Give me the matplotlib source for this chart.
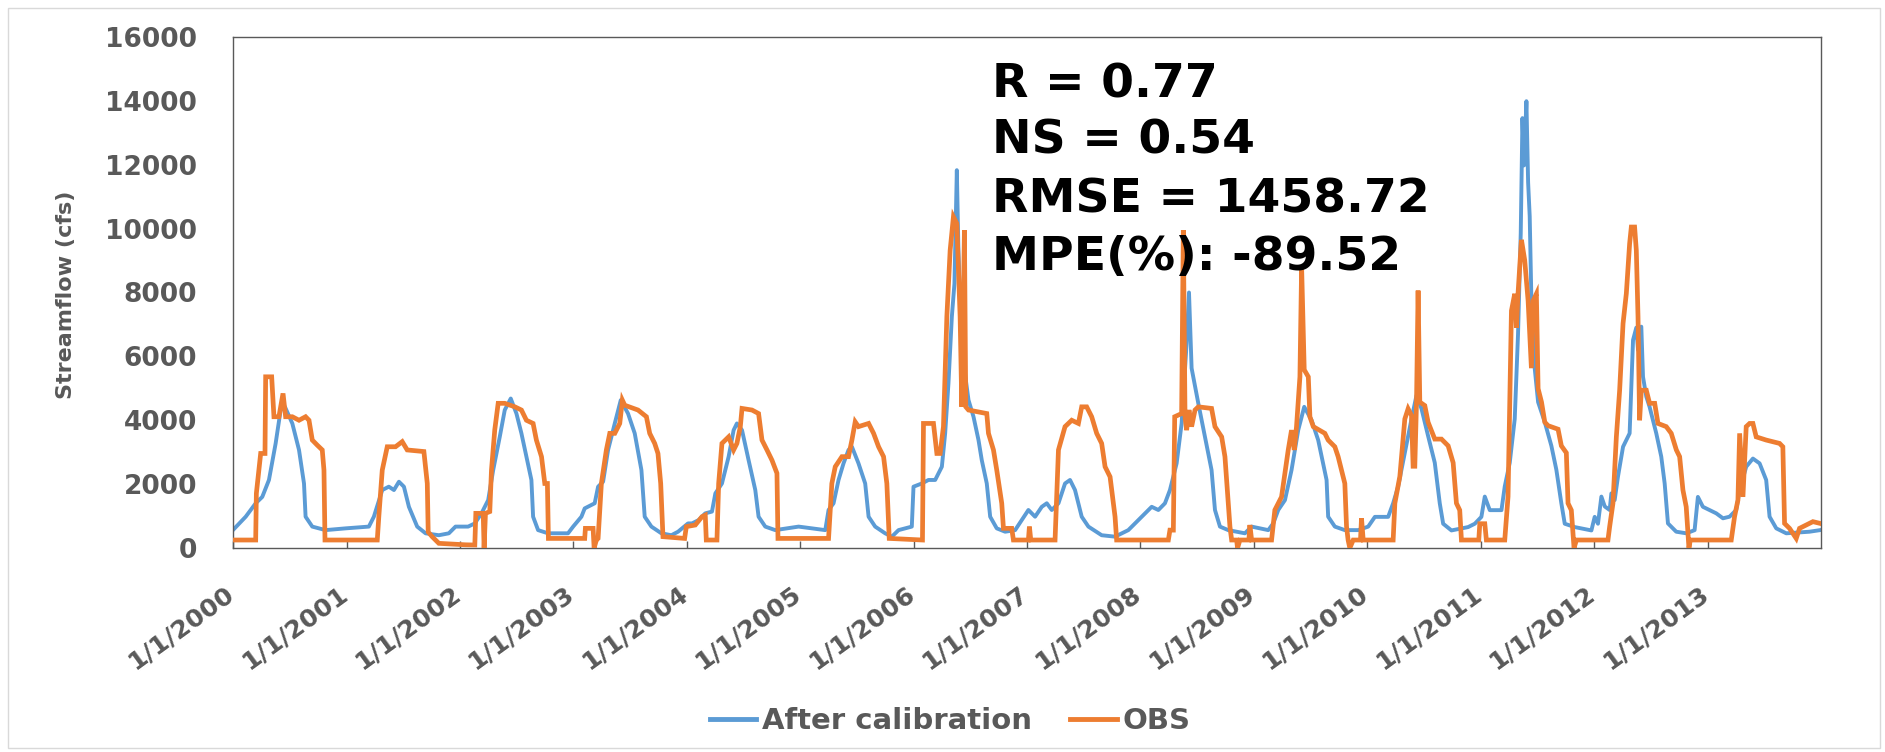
import numpy as np
import pandas as pd
import matplotlib
matplotlib.use("Agg")
import matplotlib.pyplot as plt
import matplotlib.transforms as mtransforms
from matplotlib.patches import Rectangle
from matplotlib.lines import Line2D

# ---------------- data (decimal year, streamflow cfs) ----------------
sim_year = [
    2000.000, 2000.112, 2000.200, 2000.258, 2000.317, 2000.376, 2000.420, 2000.458, 2000.523, 2000.582,
    2000.626, 2000.640, 2000.699, 2000.816, 2000.993, 2001.198, 2001.242, 2001.316, 2001.374, 2001.419,
    2001.463, 2001.507, 2001.551, 2001.624, 2001.698, 2001.815, 2001.903, 2001.962, 2002.073, 2002.132,
    2002.191, 2002.250, 2002.294, 2002.352, 2002.396, 2002.449, 2002.499, 2002.543, 2002.587, 2002.631,
    2002.646, 2002.690, 2002.778, 2002.954, 2002.999, 2003.072, 2003.101, 2003.189, 2003.219, 2003.263,
    2003.307, 2003.366, 2003.419, 2003.483, 2003.542, 2003.601, 2003.630, 2003.689, 2003.777, 2003.865,
    2003.924, 2004.012, 2004.047, 2004.106, 2004.164, 2004.223, 2004.253, 2004.311, 2004.370, 2004.414,
    2004.443, 2004.488, 2004.546, 2004.605, 2004.634, 2004.693, 2004.781, 2004.987, 2005.104, 2005.222,
    2005.251, 2005.295, 2005.339, 2005.383, 2005.427, 2005.457, 2005.515, 2005.574, 2005.604, 2005.662,
    2005.750, 2005.809, 2005.868, 2005.985, 2006.000, 2006.073, 2006.132, 2006.191, 2006.250, 2006.279,
    2006.308, 2006.338, 2006.361, 2006.367, 2006.382, 2006.396, 2006.426, 2006.485, 2006.529, 2006.573,
    2006.602, 2006.646, 2006.676, 2006.734, 2006.808, 2006.896, 2006.955, 2007.013, 2007.072, 2007.131,
    2007.175, 2007.219, 2007.278, 2007.336, 2007.380, 2007.424, 2007.483, 2007.542, 2007.659, 2007.777,
    2007.894, 2008.012, 2008.070, 2008.100, 2008.159, 2008.217, 2008.261, 2008.320, 2008.364, 2008.408,
    2008.429, 2008.452, 2008.511, 2008.570, 2008.628, 2008.658, 2008.702, 2008.775, 2008.922, 2008.981,
    2009.128, 2009.172, 2009.216, 2009.275, 2009.333, 2009.392, 2009.445, 2009.510, 2009.568, 2009.642,
    2009.656, 2009.715, 2009.803, 2009.921, 2010.009, 2010.068, 2010.185, 2010.229, 2010.273, 2010.332,
    2010.391, 2010.435, 2010.479, 2010.537, 2010.596, 2010.640, 2010.670, 2010.743, 2010.890, 2010.949,
    2011.007, 2011.037, 2011.081, 2011.184, 2011.213, 2011.257, 2011.301, 2011.330, 2011.354, 2011.369,
    2011.383, 2011.404, 2011.419, 2011.433, 2011.448, 2011.477, 2011.507, 2011.566, 2011.624, 2011.668,
    2011.712, 2011.742, 2011.830, 2011.977, 2012.006, 2012.035, 2012.065, 2012.095, 2012.138, 2012.153,
    2012.182, 2012.211, 2012.256, 2012.314, 2012.344, 2012.373, 2012.388, 2012.417, 2012.432, 2012.461,
    2012.490, 2012.549, 2012.593, 2012.623, 2012.652, 2012.725, 2012.814, 2012.887, 2012.916, 2012.960,
    2013.078, 2013.137, 2013.195, 2013.254, 2013.284, 2013.342, 2013.401, 2013.460, 2013.518, 2013.548,
    2013.607, 2013.695, 2013.900, 2013.994,
]
sim_flow = [
    563, 980, 1400, 1600, 2130, 3275, 4320, 4420, 3900, 3070,
    2020, 980, 670, 560, 615, 670, 980, 1815, 1920, 1815,
    2075, 1920, 1290, 670, 460, 400, 460, 670, 670, 770,
    1085, 1500, 2440, 3480, 4320, 4680, 4210, 3590, 2860, 2130,
    980, 560, 460, 460, 670, 980, 1240, 1400, 1920, 2075,
    3070, 3900, 4630, 4210, 3590, 2440, 980, 670, 460, 400,
    510, 770, 770, 875, 1085, 1140, 1710, 2020, 2860, 3690,
    3900, 3690, 2750, 1815, 980, 670, 560, 670, 615, 560,
    1190, 1400, 2130, 2650, 3070, 3170, 2650, 2020, 980, 670,
    460, 355, 560, 670, 1920, 2020, 2130, 2130, 2545, 3590,
    5150, 7240, 8280, 9320, 11830, 9320, 6200, 4630, 4110, 3380,
    2750, 2020, 980, 615, 510, 560, 875, 1190, 980, 1290,
    1400, 1190, 1400, 2020, 2130, 1815, 980, 670, 400, 355,
    560, 980, 1190, 1290, 1190, 1400, 1815, 2650, 3900, 6410,
    8000, 5630, 4530, 3480, 2440, 1190, 670, 560, 460, 670,
    560, 770, 1190, 1500, 2440, 3690, 4420, 4000, 3380, 2130,
    980, 670, 560, 560, 670, 975, 975, 1400, 1925, 2980,
    4040, 4780, 4360, 3510, 2670, 1400, 760, 550, 655, 760,
    975, 1610, 1185, 1185, 1925, 2670, 4040, 6690, 9860, 13460,
    11980, 13990, 11450, 10390, 7740, 5630, 4570, 3940, 3200, 2450,
    1400, 760, 655, 550, 975, 760, 1610, 1300, 1190, 1710,
    1500, 2230, 3170, 3590, 6510, 6900, 6200, 6930, 5360, 4740,
    4420, 3590, 2860, 2020, 770, 510, 460, 560, 1600, 1290,
    1085, 930, 980, 1190, 1815, 2545, 2800, 2650, 2130, 980,
    615, 460, 510, 560,
]

obs_year = [
    2000.000, 2000.200, 2000.206, 2000.244, 2000.282, 2000.288, 2000.341, 2000.361, 2000.405, 2000.441,
    2000.464, 2000.523, 2000.582, 2000.640, 2000.670, 2000.699, 2000.743, 2000.787, 2000.802, 2000.811,
    2001.272, 2001.286, 2001.316, 2001.360, 2001.433, 2001.492, 2001.536, 2001.683, 2001.713, 2001.721,
    2001.756, 2001.815, 2002.050, 2002.132, 2002.141, 2002.206, 2002.214, 2002.226, 2002.264, 2002.279,
    2002.308, 2002.338, 2002.396, 2002.485, 2002.543, 2002.587, 2002.646, 2002.675, 2002.720, 2002.749,
    2002.772, 2002.781, 2003.101, 2003.107, 2003.175, 2003.184, 2003.204, 2003.219, 2003.248, 2003.292,
    2003.322, 2003.366, 2003.410, 2003.433, 2003.454, 2003.571, 2003.645, 2003.674, 2003.718, 2003.747,
    2003.771, 2003.791, 2003.982, 2003.997, 2004.076, 2004.135, 2004.164, 2004.173, 2004.267, 2004.282,
    2004.311, 2004.370, 2004.414, 2004.443, 2004.473, 2004.488, 2004.576, 2004.634, 2004.664, 2004.708,
    2004.752, 2004.796, 2004.805, 2005.251, 2005.280, 2005.310, 2005.369, 2005.427, 2005.457, 2005.486,
    2005.515, 2005.604, 2005.648, 2005.692, 2005.736, 2005.765, 2005.786, 2006.079, 2006.088, 2006.176,
    2006.206, 2006.235, 2006.264, 2006.294, 2006.323, 2006.352, 2006.382, 2006.411, 2006.426, 2006.449,
    2006.461, 2006.485, 2006.646, 2006.661, 2006.705, 2006.734, 2006.778, 2006.793, 2006.866, 2006.881,
    2007.013, 2007.022, 2007.034, 2007.248, 2007.278, 2007.336, 2007.395, 2007.454, 2007.483, 2007.527,
    2007.571, 2007.615, 2007.659, 2007.689, 2007.733, 2007.777, 2007.791, 2008.247, 2008.261, 2008.291,
    2008.303, 2008.364, 2008.379, 2008.394, 2008.408, 2008.429, 2008.452, 2008.482, 2008.511, 2008.628,
    2008.658, 2008.717, 2008.746, 2008.790, 2008.805, 2008.849, 2008.857, 2008.878, 2008.957, 2008.966,
    2008.981, 2009.157, 2009.186, 2009.245, 2009.304, 2009.333, 2009.357, 2009.377, 2009.407, 2009.422,
    2009.445, 2009.481, 2009.495, 2009.525, 2009.627, 2009.656, 2009.715, 2009.744, 2009.803, 2009.818,
    2009.832, 2009.847, 2009.877, 2009.941, 2009.950, 2009.965, 2010.229, 2010.244, 2010.288, 2010.332,
    2010.361, 2010.391, 2010.405, 2010.420, 2010.435, 2010.449, 2010.464, 2010.508, 2010.537, 2010.596,
    2010.655, 2010.714, 2010.758, 2010.787, 2010.816, 2010.831, 2010.984, 2010.993, 2011.037, 2011.051,
    2011.213, 2011.242, 2011.272, 2011.301, 2011.316, 2011.330, 2011.360, 2011.389, 2011.419, 2011.448,
    2011.463, 2011.492, 2011.507, 2011.537, 2011.566, 2011.595, 2011.683, 2011.712, 2011.756, 2011.771,
    2011.800, 2011.824, 2011.845, 2012.094, 2012.123, 2012.138, 2012.167, 2012.197, 2012.226, 2012.256,
    2012.285, 2012.314, 2012.329, 2012.358, 2012.373, 2012.388, 2012.402, 2012.417, 2012.461, 2012.490,
    2012.535, 2012.564, 2012.637, 2012.681, 2012.726, 2012.755, 2012.784, 2012.813, 2012.837, 2012.849,
    2013.210, 2013.239, 2013.269, 2013.284, 2013.313, 2013.342, 2013.372, 2013.401, 2013.430, 2013.518,
    2013.636, 2013.665, 2013.680, 2013.724, 2013.783, 2013.812, 2013.930, 2013.994,
]
obs_flow = [
    250, 250, 1710, 2960, 2960, 5360, 5360, 4110, 4110, 4840,
    4110, 4110, 4000, 4110, 4000, 3380, 3220, 3070, 2440, 250,
    250, 1000, 2440, 3170, 3170, 3330, 3070, 3020, 2020, 500,
    355, 146, 100, 94, 1085, 1085, 0, 1085, 1140, 2440,
    3700, 4530, 4530, 4420, 4320, 4000, 3900, 3380, 2860, 2020,
    2020, 300, 300, 615, 615, 0, 250, 300, 2020, 3070,
    3590, 3590, 3900, 4630, 4470, 4320, 4110, 3590, 3275, 2960,
    2020, 355, 300, 670, 720, 980, 1030, 250, 250, 2020,
    3275, 3480, 3070, 3275, 3800, 4370, 4320, 4210, 3380, 3070,
    2750, 2340, 300, 300, 2020, 2545, 2860, 2860, 3380, 3950,
    3800, 3900, 3590, 3170, 2860, 2020, 300, 250, 3900, 3900,
    2960, 2960, 3800, 7240, 9320, 10370, 10160, 7240, 4420, 9950,
    4420, 4320, 4210, 3590, 3070, 2440, 1400, 615, 615, 250,
    250, 670, 250, 250, 3070, 3800, 4000, 3900, 4420, 4420,
    4110, 3590, 3275, 2545, 2230, 980, 250, 250, 560, 560,
    4110, 4210, 9950, 4110, 3690, 4320, 3800, 4320, 4420, 4370,
    3800, 3480, 2860, 670, 250, 250, 0, 250, 250, 720,
    250, 250, 1190, 1600, 3070, 3690, 3070, 3800, 5360, 8800,
    5580, 5360, 4110, 3800, 3590, 3380, 3170, 2860, 2020, 670,
    250, 0, 250, 250, 930, 250, 250, 1400, 2240, 4040,
    4360, 4150, 2560, 2560, 4570, 8060, 4570, 4460, 3940, 3410,
    3410, 3200, 2670, 1400, 1185, 250, 250, 760, 760, 250,
    250, 1610, 7430, 7960, 6900, 7960, 9650, 9010, 7740, 5630,
    7740, 7960, 4990, 4570, 3940, 3830, 3720, 3200, 2980, 1400,
    1185, 0, 250, 250, 250, 670, 1400, 3480, 4940, 7030,
    7970, 9530, 10050, 10050, 9320, 7240, 4000, 4940, 4940, 4530,
    4530, 3900, 3800, 3590, 3070, 2860, 1815, 1290, 0, 250,
    250, 980, 1500, 3590, 1600, 3800, 3900, 3900, 3480, 3380,
    3275, 3170, 770, 615, 300, 615, 825, 770,
]

tick_years = list(range(2000, 2014))
tick_labels = [f"1/1/{y}" for y in tick_years]
y_ticks = list(range(0, 16001, 2000))

stats_lines = ["R = 0.77", "NS = 0.54", "RMSE = 1458.72", "MPE(%): -89.52"]
series_names = ["After calibration", "OBS"]


def to_dates(years):
    yrs = np.asarray(years, dtype=float)
    return pd.Timestamp("2000-01-01") + pd.to_timedelta((yrs - 2000.0) * 365.25, unit="D")


BLUE = "#5B9BD5"
ORANGE = "#ED7D31"
GRAY = "#595959"
W, H = 1885, 752

plt.rcParams["font.family"] = ["DejaVu Sans"]
fig = plt.figure(figsize=(W / 100, H / 100), dpi=100)
fig.patch.set_facecolor("white")

ax = fig.add_axes([233 / W, 1 - 548 / H, (1821 - 233) / W, (548 - 37) / H])
ax.plot(to_dates(sim_year), sim_flow, color=BLUE, lw=2.8, solid_joinstyle="round", zorder=2)
ax.plot(to_dates(obs_year), obs_flow, color=ORANGE, lw=3.4, solid_joinstyle="miter", zorder=3)

ax.set_ylim(0, 16000)
ax.set_yticks(y_ticks)
ax.set_yticklabels([str(v) for v in y_ticks], fontsize=19, fontweight="bold", color=GRAY)
ax.set_xlim(pd.Timestamp("2000-01-01"), pd.Timestamp("2014-01-01"))
ax.set_xticks([pd.Timestamp(f"{y}-01-01") for y in tick_years])
ax.set_xticklabels(tick_labels, rotation=36, ha="right", va="top", rotation_mode="anchor",
                   fontsize=18.2, fontweight="bold", color=GRAY)
ax.tick_params(axis="x", direction="in", length=5, width=1, color=GRAY, pad=24)
ax.tick_params(axis="y", length=0, pad=26)
shift = mtransforms.ScaledTranslation(-9 / 100, 0, fig.dpi_scale_trans)
for lab in ax.get_xticklabels():
    lab.set_transform(lab.get_transform() + shift)
for s in ax.spines.values():
    s.set_color(GRAY)
    s.set_linewidth(1.0)

fig.text(66 / W, 1 - 294.5 / H, "Streamflow (cfs)", rotation=90, ha="center", va="center",
         fontsize=16, fontweight="bold", color=GRAY)

for txt, yb in zip(stats_lines, [97, 154, 212.5, 270]):
    fig.text(991.5 / W, 1 - yb / H, txt, ha="left", va="baseline",
             fontsize=34, fontweight="bold", color="black")

handles = [Line2D([], [], color=BLUE, lw=3.5), Line2D([], [], color=ORANGE, lw=3.5)]
leg = fig.legend(handles, series_names, loc="center", bbox_to_anchor=(0.504, 1 - 721 / H),
                 ncol=2, frameon=False, handlelength=1.6, handletextpad=0.2, columnspacing=1.3,
                 prop={"size": 21, "weight": "bold"})
for t in leg.get_texts():
    t.set_color(GRAY)

fig.add_artist(Rectangle((8 / W, 4 / H), (1880 - 8) / W, (744 - 4) / H, transform=fig.transFigure,
                         fill=False, edgecolor="#D9D9D9", lw=1.0))

fig.savefig("out.png", dpi=100, facecolor="white")
